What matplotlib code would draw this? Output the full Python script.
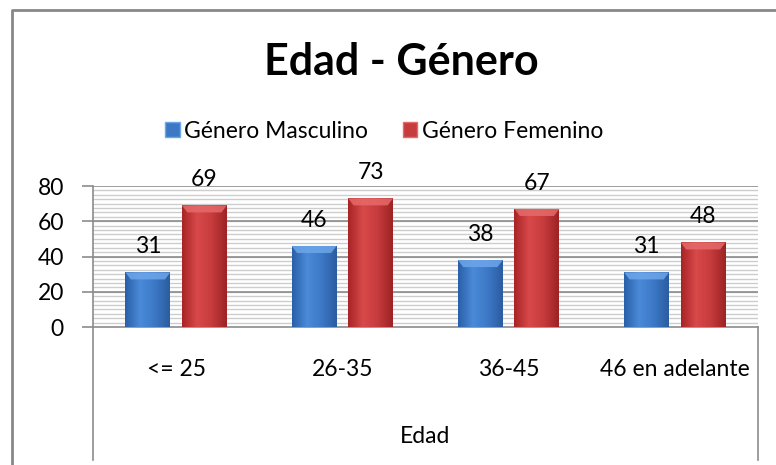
import numpy as np
import matplotlib.pyplot as plt
from matplotlib.patches import Rectangle, Polygon
from matplotlib.lines import Line2D
from matplotlib.colors import LinearSegmentedColormap

# Datos
categorias = ["<= 25", "26-35", "36-45", "46 en adelante"]
masculino = [31, 46, 38, 31]
femenino = [69, 73, 67, 48]
series = ["Género Masculino", "Género Femenino"]

plt.rcParams['font.family'] = ['Lato', 'DejaVu Sans']

fig = plt.figure(figsize=(7.76, 4.65), dpi=100)
ax = fig.add_axes([93 / 776, 1 - 327 / 465, 665 / 776, 141 / 465])

x = np.arange(len(categorias))
ancho = 0.27
desp = 0.17

# franjas de fondo (patron de lineas horizontales)
for v in np.arange(0, 80, 2.5):
    ax.axhline(v, color='#cdcdcd', lw=1.0, zorder=0)
for v in [20, 40, 60, 80]:
    ax.axhline(v, color='#8c8c8c', lw=1.2, zorder=1)

cmap_azul = LinearSegmentedColormap.from_list('az', ['#2a5fa8', '#4a8ad8', '#3c78c6', '#2b5d9f'])
cmap_rojo = LinearSegmentedColormap.from_list('ro', ['#a82426', '#d8494a', '#c63b3c', '#9c2325'])


def barras(valores, offset, cmap, tope):
    rects = ax.bar(x + offset, valores, ancho, color='none', zorder=3)
    grad = np.linspace(0, 1, 100).reshape(1, -1)
    for r in rects:
        x0, w, h = r.get_x(), r.get_width(), r.get_height()
        im = ax.imshow(grad, cmap=cmap, aspect='auto', extent=[x0, x0 + w, 0, h],
                       zorder=3, interpolation='bicubic')
        im.set_clip_path(r)
        # bisel superior
        b = 4.0
        ax.add_patch(Polygon([(x0, h), (x0 + w, h), (x0 + w * 0.88, h - b), (x0 + w * 0.12, h - b)],
                             closed=True, facecolor=tope, edgecolor='none', alpha=0.85, zorder=4))
        ax.text(x0 + w / 2, h + 8.5, f"{h:.0f}", ha='center', va='bottom', fontsize=16.5,
                color='#000000', zorder=5)
    return rects


barras(masculino, -desp, cmap_azul, '#6ea6ea')
barras(femenino, desp, cmap_rojo, '#e66a6a')

ax.set_xlim(-0.5, len(categorias) - 0.5)
ax.set_ylim(0, 80)
ax.set_yticks([0, 20, 40, 60, 80])
ax.set_yticklabels(['0', '20', '40', '60', '80'], fontsize=16.5)
ax.tick_params(axis='y', length=8, width=1.2, color='#8c8c8c', pad=13)
ax.set_xticks([])
for s in ['top', 'right']:
    ax.spines[s].set_visible(False)
ax.spines['left'].set_color('#8c8c8c')
ax.spines['left'].set_linewidth(1.2)
ax.spines['bottom'].set_color('#8c8c8c')
ax.spines['bottom'].set_linewidth(1.2)

# caja del eje de categorias
for xp in [93, 758]:
    fig.add_artist(Line2D([xp / 776, xp / 776], [1 - 327 / 465, 1 - 460 / 465],
                          color='#8c8c8c', lw=1.2))
for i, c in enumerate(categorias):
    xc = (93 + 665 * (i + 0.5) / 4) / 776
    fig.text(xc, 1 - 370 / 465, c, ha='center', va='center', fontsize=16.5)
fig.text((93 + 758) / 2 / 776, 1 - 436 / 465, "Edad", ha='center', va='center', fontsize=16.5)

# titulo
fig.text(401 / 776, 1 - 62 / 465, "Edad - Género", ha='center', va='center',
         fontsize=31, fontweight='bold')

# leyenda
handles = [Rectangle((0, 0), 1, 1, facecolor='#3c78c6', edgecolor='#6ea6ea'),
           Rectangle((0, 0), 1, 1, facecolor='#c63b3c', edgecolor='#e66a6a')]
fig.legend(handles, series, loc='center', bbox_to_anchor=(384 / 776, 1 - 131 / 465),
           ncol=2, frameon=False, fontsize=16.5, handlelength=0.65, handleheight=0.65,
           handletextpad=0.2, columnspacing=1.5)

# borde exterior
fig.add_artist(Line2D([12 / 776, 12 / 776, 1], [0, 1 - 10 / 465, 1 - 10 / 465],
                      color='#888888', lw=2))

fig.savefig('out.png', dpi=100)
